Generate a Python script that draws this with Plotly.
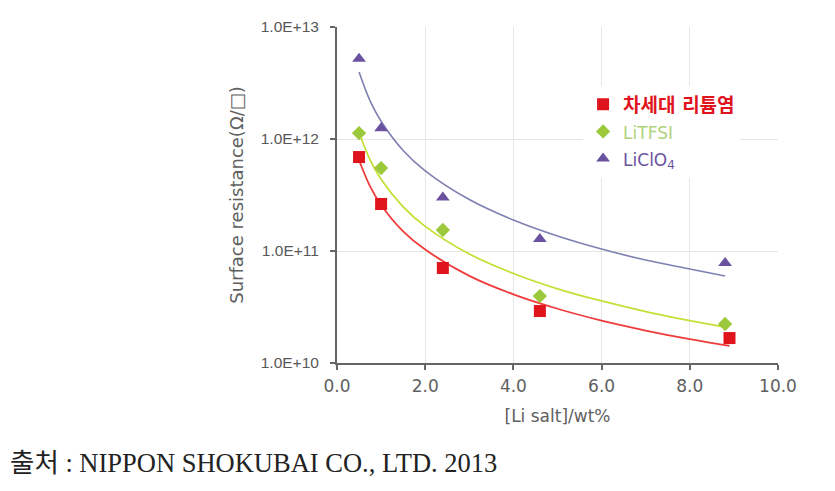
import plotly.graph_objects as go

# ---- data ----
series_names = ["차세대 리튬염", "LiTFSI", "LiClO4"]

red_x = [0.5, 1.0, 2.4, 4.6, 8.9]
red_y = [6.9e11, 2.63e11, 7.05e10, 2.91e10, 1.67e10]
green_x = [0.5, 1.0, 2.4, 4.6, 8.8]
green_y = [1.13e12, 5.5e11, 1.54e11, 3.96e10, 2.23e10]
purple_x = [0.5, 1.0, 2.4, 4.6, 8.8]
purple_y = [5.2e12, 1.25e12, 3.0e11, 1.28e11, 7.8e10]

# trend curves
red_fit_x = [0.5, 0.75, 1.0, 1.5, 2.0, 3.0, 4.0, 5.0, 6.0, 7.0, 8.0, 8.9]
red_fit_y = [6.46e11, 3.78e11, 2.58e11, 1.50e11, 1.03e11, 6.0e10, 4.1e10, 3.05e10, 2.39e10, 1.95e10, 1.63e10, 1.42e10]
green_fit_x = [0.5, 0.75, 1.0, 1.5, 2.0, 3.0, 4.0, 5.0, 6.0, 7.0, 8.0, 8.8]
green_fit_y = [1.15e12, 6.5e11, 4.37e11, 2.48e11, 1.66e11, 9.4e10, 6.3e10, 4.6e10, 3.58e10, 2.88e10, 2.39e10, 2.09e10]
purple_fit_x = [0.5, 0.75, 1.0, 1.5, 2.0, 3.0, 4.0, 5.0, 6.0, 7.0, 8.0, 8.8]
purple_fit_y = [3.96e12, 2.19e12, 1.44e12, 7.9e11, 5.2e11, 2.88e11, 1.89e11, 1.36e11, 1.04e11, 8.3e10, 6.9e10, 5.97e10]

x_ticks = [0, 2, 4, 6, 8, 10]
x_tick_labels = ["0.0", "2.0", "4.0", "6.0", "8.0", "10.0"]
y_ticks = [1e10, 1e11, 1e12, 1e13]
y_tick_labels = ["1.0E+10", "1.0E+11", "1.0E+12", "1.0E+13"]

# the page body has an 8px margin, so the figure is sized to fill the rest of the window
W, H = 827, 483
L, R, T, B = 329, 57, 19, 128
PW, PH = W - L - R, H - T - B

fig = go.Figure()

# curves
fig.add_trace(go.Scatter(x=purple_fit_x, y=purple_fit_y, mode="lines", line=dict(color="#7F80B2", width=1.6, shape="spline"), showlegend=False, hoverinfo="skip"))
fig.add_trace(go.Scatter(x=green_fit_x, y=green_fit_y, mode="lines", line=dict(color="#C6DE36", width=1.8, shape="spline"), showlegend=False, hoverinfo="skip"))
fig.add_trace(go.Scatter(x=red_fit_x, y=red_fit_y, mode="lines", line=dict(color="#EE3C3C", width=1.8, shape="spline"), showlegend=False, hoverinfo="skip"))

# markers
fig.add_trace(go.Scatter(x=red_x, y=red_y, mode="markers",
                         marker=dict(symbol="square", size=12, color="#E0141C"),
                         name="<span style='color:#E0141C;font-size:19px'><b>" + series_names[0] + "</b></span>"))
fig.add_trace(go.Scatter(x=green_x, y=green_y, mode="markers",
                         marker=dict(symbol="diamond", size=11, color="#9CC93C"),
                         name="<span style='color:#B0D27A;font-family:DejaVu Sans;font-size:17px'>LiTFSI</span>"))
fig.add_trace(go.Scatter(x=purple_x, y=purple_y, mode="markers",
                         marker=dict(symbol="triangle-up", size=12, color="#6A52A0"),
                         name="<span style='color:#6A52A0;font-family:DejaVu Sans;font-size:17px'>LiClO<sub>4</sub></span>"))

ytick_font = dict(family="Liberation Sans, Arial, sans-serif", size=15.5, color="#585858")
xtick_font = dict(family="DejaVu Sans, sans-serif", size=17, color="#606060")
title_font = dict(family="DejaVu Sans, sans-serif", size=17, color="#606060")

fig.update_layout(
    width=W, height=H,
    paper_bgcolor="white", plot_bgcolor="white",
    margin=dict(l=L, r=R, t=T, b=B, autoexpand=False),
    font=dict(family="DejaVu Sans, Noto Sans CJK KR, sans-serif", color="#606060"),
    legend=dict(x=0.558, y=0.825, xanchor="left", yanchor="top",
                bgcolor="white", font=dict(size=18.5, family="DejaVu Sans, Noto Sans CJK KR, sans-serif"),
                tracegroupgap=0, itemsizing="trace", itemwidth=30),
    xaxis=dict(range=[0, 10], tickvals=x_ticks, ticktext=x_tick_labels,
               showgrid=True, gridcolor="#E6E6E6", gridwidth=1,
               showline=True, linecolor="#666666", linewidth=2,
               ticks="outside", ticklen=5, tickcolor="#666666", tickwidth=1.5,
               tickfont=xtick_font, zeroline=False, ticklabelstandoff=2,
               title=dict(text="[Li salt]/wt%", font=title_font, standoff=15)),
    yaxis=dict(type="log", range=[10, 13], tickvals=y_ticks, ticktext=y_tick_labels,
               showgrid=True, gridcolor="#E6E6E6", gridwidth=1,
               showline=True, linecolor="#666666", linewidth=2,
               ticks="outside", ticklen=5, tickcolor="#666666", tickwidth=1.5,
               tickfont=ytick_font, zeroline=False, ticklabelstandoff=8,
               title=dict(text="Surface resistance(Ω/□)", font=dict(family="DejaVu Sans, sans-serif", size=18, color="#606060"), standoff=12)),
    annotations=[dict(text="출처 : NIPPON SHOKUBAI CO., LTD. 2013", xref="paper", yref="paper",
                      x=-L / PW, y=-(455 - (T + PH)) / PH, xanchor="left", yanchor="middle", showarrow=False,
                      font=dict(family="Liberation Serif, Noto Sans CJK KR, serif", size=26.5, color="#222222"))],
)

fig.write_html("out.html")
